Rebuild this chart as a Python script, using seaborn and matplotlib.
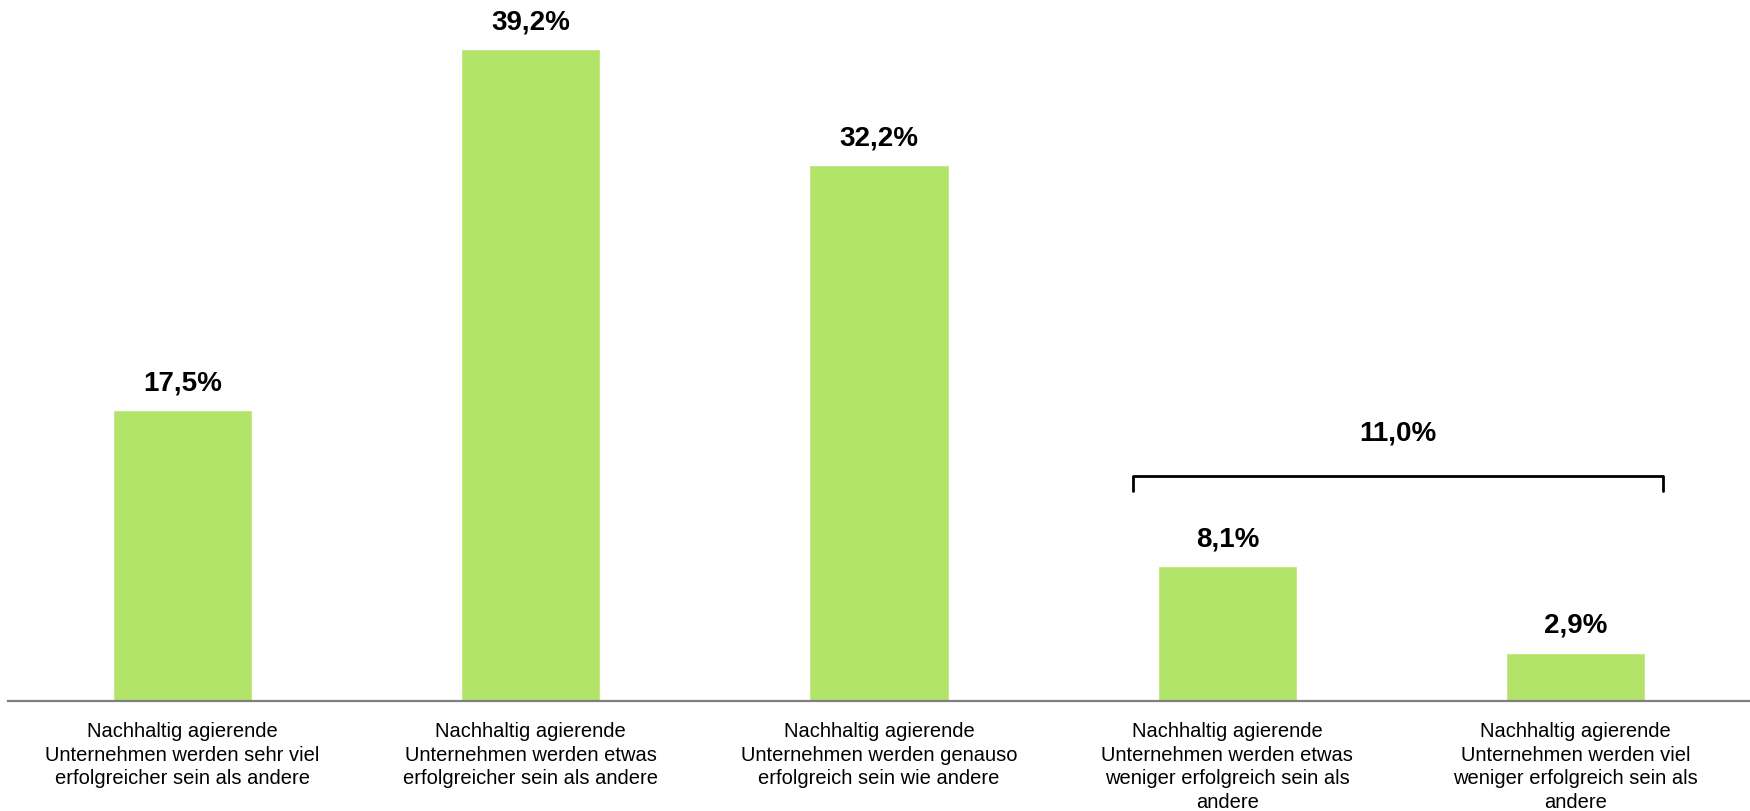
import numpy as np
import pandas as pd
import matplotlib
matplotlib.use('Agg')
import matplotlib.pyplot as plt
import seaborn as sns

categories = [
    'Nachhaltig agierende\nUnternehmen werden sehr viel\nerfolgreicher sein als andere',
    'Nachhaltig agierende\nUnternehmen werden etwas\nerfolgreicher sein als andere',
    'Nachhaltig agierende\nUnternehmen werden genauso\nerfolgreich sein wie andere',
    'Nachhaltig agierende\nUnternehmen werden etwas\nweniger erfolgreich sein als\nandere',
    'Nachhaltig agierende\nUnternehmen werden viel\nweniger erfolgreich sein als\nandere',
]
values = [17.5, 39.2, 32.2, 8.1, 2.9]
value_labels = ['17,5%', '39,2%', '32,2%', '8,1%', '2,9%']
group_label = '11,0%'
group_idx = [3, 4]

sns.set_style('white')
plt.rcParams['font.family'] = ['Liberation Sans', 'DejaVu Sans']

df = pd.DataFrame({'cat': categories, 'val': values})

fig = plt.figure(figsize=(17.5, 8.11), dpi=100)
ax = fig.add_axes([0.0046, 0.1356, 0.9954, 0.8644])
sns.barplot(data=df, x='cat', y='val', color='#B2E46A', width=0.4,
            saturation=1, ax=ax)

ax.set_xlim(-0.5, 4.5)
ax.set_ylim(0, 42.15)
for s in ['top', 'right', 'left']:
    ax.spines[s].set_visible(False)
ax.spines['bottom'].set_color('#7f7f7f')
ax.spines['bottom'].set_linewidth(1.6)
ax.set_yticks([])
ax.set_xlabel('')
ax.set_ylabel('')
ax.tick_params(axis='x', length=0, pad=15, labelsize=14.5, colors='black')
for t in ax.get_xticklabels():
    t.set_linespacing(1.32)

for i, (v, lab) in enumerate(zip(values, value_labels)):
    ax.annotate(lab, (i, v), xytext=(0, 10), textcoords='offset points',
                ha='center', va='bottom', fontsize=20, fontweight='bold',
                color='black')

# bracket over the two lower groups
x0 = group_idx[0] - 0.27
x1 = group_idx[1] + 0.25
yb = sum(values[i] for i in group_idx) + 2.5
ax.plot([x0, x0, x1, x1], [yb - 0.9, yb, yb, yb - 0.9], color='black', lw=2,
        solid_joinstyle='round')
ax.text((x0 + x1) / 2, yb + 2.6, group_label, ha='center', va='center',
        fontsize=20, fontweight='bold', color='black')

fig.savefig('out.png', dpi=100)
